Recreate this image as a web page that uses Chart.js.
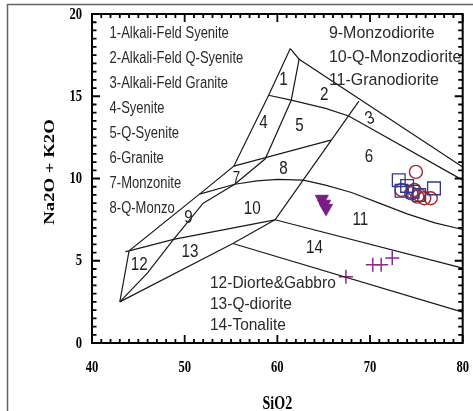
<!DOCTYPE html>
<html>
<head>
<meta charset="utf-8">
<script src="https://cdn.jsdelivr.net/npm/chart.js@4.4.1/dist/chart.umd.min.js"></script>
<style>
  html, body { margin: 0; padding: 0; background: #fff; }
  #wrap { width: 473px; height: 411px; }
</style>
</head>
<body>
<div id="wrap"><canvas id="tas" width="473" height="411"></canvas></div>
<script>
// axis ticks
var xTicks = [40, 50, 60, 70, 80];
var yTicks = [0, 5, 10, 15, 20];

// field boundaries (SiO2, Na2O+K2O)
var outerLeft = [[43.0, 2.5], [44.0, 5.6], [51.6, 9.05], [55.3, 10.75], [59.06, 15.06], [61.4, 17.9]];
var topLine = [[61.4, 17.9], [62.35, 17.25], [80, 10.7]];
var line2 = [[59.06, 15.06], [61.5, 14.76], [65.2, 14.26], [67.7, 13.8], [80, 9.9]];
var diagLine = [[59.75, 7.49], [68.8, 14.7]];
var line47 = [[55.3, 10.75], [65.77, 12.33]];
var dividerLine = [[43.0, 2.5], [45.97, 4.25], [48.8, 6.3], [52.0, 8.5], [55.4, 9.65], [58.7, 11.2], [61.5, 14.76], [62.35, 17.25]];
var curveLine = [[51.6, 9.05], [55.4, 9.65], [57.8, 9.85], [60, 9.95], [62.8, 9.9], [65.2, 9.6], [68, 9.15], [71, 8.5], [74, 7.85], [77, 7.3], [80, 6.9]];
var lineX = [[43.6, 5.55], [44.0, 5.6], [48.8, 6.3], [59.75, 7.49]];
var lineY = [[43.0, 2.5], [55.2, 6.05], [59.75, 7.49]];
var line11_14 = [[59.75, 7.49], [80, 4.55]];
var line14low = [[55.2, 6.05], [80, 1.88]];

// samples
var squareSi = [73.1, 73.4, 74.0, 74.6, 75.3, 76.9];
var squareAlk = [9.9, 9.25, 9.55, 9.2, 9.0, 9.4];
var circleSi = [74.95, 73.4, 74.8, 75.3, 75.85, 76.55, 75.1, 74.45];
var circleAlk = [10.4, 9.3, 9.3, 9.0, 8.8, 8.8, 8.9, 9.1];
var triSi = [64.8, 65.05, 65.25];
var triAlk = [8.75, 8.45, 8.2];
var crossSi = [67.4, 70.3, 71.2, 72.4];
var crossAlk = [4.02, 4.76, 4.76, 5.16];

// field numbers
var fieldNums = ['1', '2', '3', '4', '5', '6', '7', '8', '9', '10', '11', '12', '13', '14'];
var fieldX = [60.65, 65.06, 70.0, 58.5, 62.4, 69.9, 55.6, 60.65, 50.4, 57.3, 68.95, 45.1, 50.57, 64.0];
var fieldY = [15.97, 15.06, 13.65, 13.35, 13.2, 11.3, 10.0, 10.6, 7.6, 8.13, 7.5, 4.76, 5.56, 5.77];

// key texts
var keyLeft = ['1-Alkali-Feld Syenite', '2-Alkali-Feld Q-Syenite', '3-Alkali-Feld Granite', '4-Syenite',
  '5-Q-Syenite', '6-Granite', '7-Monzonite', '8-Q-Monzo'];
var keyLeftY = [18.82, 17.3, 15.79, 14.27, 12.76, 11.24, 9.73, 8.21];
var keyRight = ['9-Monzodiorite', '10-Q-Monzodiorite', '11-Granodiorite'];
var keyRightY = [18.82, 17.36, 15.97];
var keyBottom = ['12-Diorte&Gabbro', '13-Q-diorite', '14-Tonalite'];
var keyBottomY = [3.61, 2.33, 1.06];

function pts(arr) {
  return arr.map(function(p) { return {x: p[0], y: p[1]}; });
}
function zipPts(xs, ys) {
  return xs.map(function(v, i) { return {x: v, y: ys[i]}; });
}
function lineSet(arr) {
  return {
    data: pts(arr), showLine: true, borderColor: '#1a1a1a', borderWidth: 1.2,
    pointRadius: 0, fill: false, tension: 0
  };
}

function txt(ctx, s, x, y, font, color, align, sx, sy, rot) {
  ctx.save();
  ctx.translate(x, y);
  if (rot) ctx.rotate(rot);
  ctx.scale(sx || 1, sy || 1);
  ctx.font = font;
  ctx.fillStyle = color;
  ctx.textAlign = align || 'left';
  ctx.textBaseline = 'middle';
  ctx.fillText(s, 0, 0);
  ctx.restore();
}

var decor = {
  id: 'decor',
  beforeDraw: function(chart) {
    var ctx = chart.ctx;
    ctx.save();
    ctx.fillStyle = '#fff';
    ctx.fillRect(0, 0, chart.width, chart.height);
    // outer frame
    ctx.strokeStyle = '#666';
    ctx.lineWidth = 1.5;
    ctx.beginPath();
    ctx.moveTo(7.5, 411);
    ctx.lineTo(7.5, 4.5);
    ctx.lineTo(473, 4.5);
    ctx.stroke();
    ctx.restore();
  },
  afterDatasetsDraw: function(chart) {
    var ctx = chart.ctx, a = chart.chartArea;
    var xs = chart.scales.x, ys = chart.scales.y;
    ctx.save();
    ctx.strokeStyle = '#000';
    ctx.lineWidth = 2;
    ctx.strokeRect(a.left, a.top, a.right - a.left, a.bottom - a.top);
    ctx.lineWidth = 1.8;
    ctx.beginPath();
    var v, p, len;
    for (v = 40; v <= 80; v += 1) {
      p = xs.getPixelForValue(v);
      len = (v % 10 === 0) ? 8 : 4;
      ctx.moveTo(p, a.bottom); ctx.lineTo(p, a.bottom - len);
      ctx.moveTo(p, a.top); ctx.lineTo(p, a.top + len);
    }
    for (v = 0; v <= 20; v += 0.5) {
      p = ys.getPixelForValue(v);
      len = (v % 5 === 0) ? 8 : 4.5;
      ctx.moveTo(a.left, p); ctx.lineTo(a.left + len, p);
      ctx.moveTo(a.right, p); ctx.lineTo(a.right - len, p);
    }
    ctx.stroke();

    var serif = 'bold 14px "Liberation Serif", "Times New Roman", serif';
    xTicks.forEach(function(t) {
      txt(ctx, String(t), xs.getPixelForValue(t), 367, serif, '#000', 'center', 0.9, 1.25);
    });
    yTicks.forEach(function(t) {
      txt(ctx, String(t), 82, ys.getPixelForValue(t), serif, '#000', 'right', 0.9, 1.25);
    });
    txt(ctx, 'SiO2', (a.left + a.right) / 2, 404, 'bold 14px "Liberation Serif", serif', '#000', 'center', 1, 1.3);
    txt(ctx, 'Na2O + K2O', 50, 172, 'bold 15px "Liberation Serif", serif', '#000', 'center', 1.25, 1, -Math.PI / 2);

    var sans = '"Liberation Sans", Arial, sans-serif';
    fieldNums.forEach(function(n, i) {
      var size = n === '7' ? 14 : 16;
      var rot = n === '3' ? -0.35 : 0;
      txt(ctx, n, xs.getPixelForValue(fieldX[i]), ys.getPixelForValue(fieldY[i]), size + 'px ' + sans, '#222', 'center', 0.95, 1.15, rot);
    });
    keyLeft.forEach(function(s, i) {
      txt(ctx, s, xs.getPixelForValue(41.9), ys.getPixelForValue(keyLeftY[i]), '13px ' + sans, '#2a2a2a', 'left', 1, 1.28);
    });
    keyRight.forEach(function(s, i) {
      txt(ctx, s, xs.getPixelForValue(65.56), ys.getPixelForValue(keyRightY[i]), '16px ' + sans, '#2a2a2a', 'left', 1, 1.05);
    });
    keyBottom.forEach(function(s, i) {
      txt(ctx, s, xs.getPixelForValue(52.73), ys.getPixelForValue(keyBottomY[i]), '15.5px ' + sans, '#2a2a2a', 'left', 1, 1.05);
    });
    ctx.restore();
  }
};

var datasets = [
  lineSet(outerLeft), lineSet(topLine), lineSet(line2), lineSet(diagLine), lineSet(line47),
  lineSet(dividerLine), lineSet(curveLine), lineSet(lineX), lineSet(lineY),
  lineSet(line11_14), lineSet(line14low),
  {
    data: zipPts(squareSi, squareAlk), pointStyle: 'rect', pointRadius: 9,
    borderColor: '#33348c', backgroundColor: 'rgba(0,0,0,0)', borderWidth: 1.3
  },
  {
    data: zipPts(circleSi, circleAlk), pointStyle: 'circle', pointRadius: 6.5,
    borderColor: '#a12a2c', backgroundColor: 'rgba(0,0,0,0)', borderWidth: 1.4
  },
  {
    data: zipPts(triSi, triAlk), pointStyle: 'triangle', pointRotation: 180, pointRadius: 7.5,
    borderColor: '#7c1c86', backgroundColor: '#7c1c86', borderWidth: 1
  },
  {
    data: zipPts(crossSi, crossAlk), pointStyle: 'cross', pointRadius: 7,
    borderColor: '#8a2a90', borderWidth: 1.5
  }
];

new Chart(document.getElementById('tas').getContext('2d'), {
  type: 'scatter',
  data: { datasets: datasets },
  options: {
    responsive: false,
    animation: false,
    devicePixelRatio: 1,
    layout: { padding: { left: 92, right: 3, top: 14, bottom: 68 } },
    plugins: { legend: { display: false }, tooltip: { enabled: false } },
    scales: {
      x: { type: 'linear', min: 40, max: 80, display: false },
      y: { type: 'linear', min: 0, max: 20, display: false }
    }
  },
  plugins: [decor]
});
</script>
</body>
</html>
